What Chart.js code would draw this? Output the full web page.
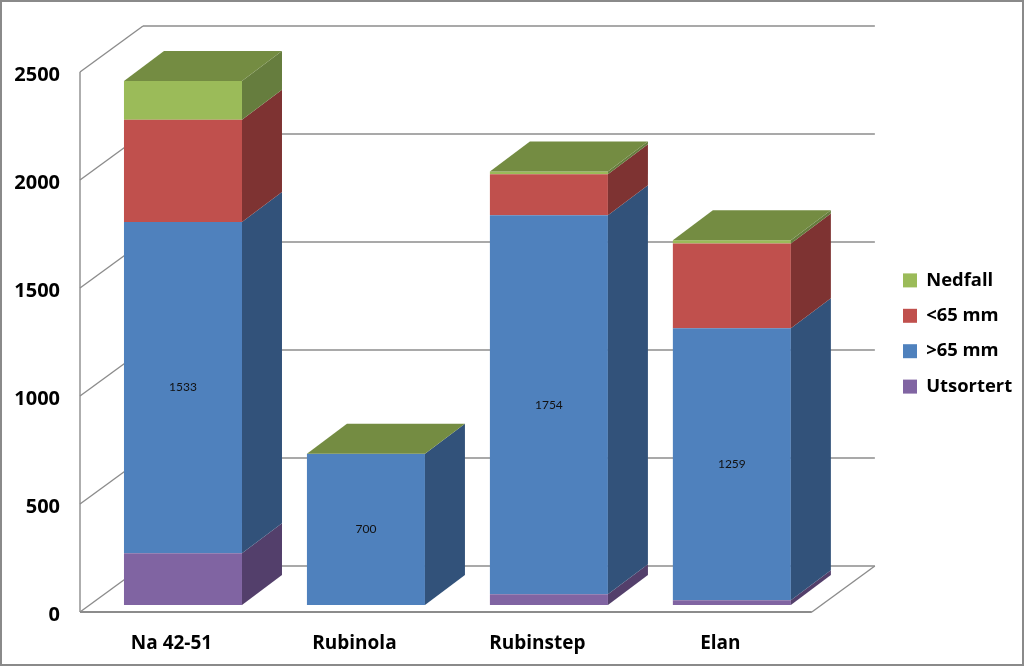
<!DOCTYPE html>
<html>
<head>
<meta charset="utf-8">
<style>
  html, body { margin:0; padding:0; background:#fff; }
  canvas { display:block; }
</style>
</head>
<body>
<canvas id="chart" width="1024" height="667"></canvas>
<script src="https://cdn.jsdelivr.net/npm/chart.js@4/dist/chart.umd.min.js"></script>
<script>
const categories = ['Na 42-51', 'Rubinola', 'Rubinstep', 'Elan'];
const utsortert  = [240, 0, 50, 22];
const over65     = [1533, 700, 1754, 1259];
const under65    = [473, 0, 190, 393];
const nedfall    = [180, 0, 13, 15];
const yTicks     = [0, 500, 1000, 1500, 2000, 2500];

// Paleta: front, side, top
const purple = '#8064A2', purpleS = '#533F6B';
const blue   = '#4F81BD', blueS   = '#32527A';
const red    = '#C0504D', redS    = '#7E3332';
const lime   = '#9BBB59', limeS   = '#667D3E', limeT = '#748C42';
const gridC  = '#8C8C8C';
const fontName = '"Open Sans", Lato, sans-serif';

// Depth of the walls and of the columns, and where the columns sit on the floor
const wallDx = 63, wallDy = -46;
const barDx = 40, barDy = -30;
const shiftX = 11.5, shiftY = -7;

const box3d = {
  id:'box3d',
  beforeDraw(chart) {
    const c = chart.ctx;
    c.save();
    c.fillStyle = '#fff';
    c.fillRect(0, 0, chart.width, chart.height);
    c.strokeStyle = '#8A8A8A';
    c.lineWidth = 2;
    c.strokeRect(1, 1, chart.width - 2, chart.height - 3);
    c.restore();
  },
  afterLayout(chart) {
    // legend goes right of the back wall, centred on the whole picture
    const l = chart.legend;
    l.left = 886; l.right = 1024;
    l.top = 0; l.bottom = 667;
  },
  beforeDatasetsDraw(chart) {
    const c = chart.ctx, x = chart.scales.x, y = chart.scales.y;
    const line = (x1, y1, x2, y2) => { c.beginPath(); c.moveTo(x1, y1); c.lineTo(x2, y2); c.stroke(); };
    c.save();
    c.strokeStyle = gridC;
    c.lineWidth = 1.4;
    // walls
    yTicks.forEach(v => {
      const py = y.getPixelForValue(v);
      line(x.left, py, x.left + wallDx, py + wallDy);
      line(x.left + wallDx, py + wallDy, x.right + wallDx, py + wallDy);
    });
    line(x.left, y.top, x.left, y.bottom);
    // floor
    c.lineWidth = 1.8;
    line(x.left, y.bottom, x.right, y.bottom);
    c.lineWidth = 1.4;
    line(x.right, y.bottom, x.right + wallDx, y.bottom + wallDy);
    c.restore();
    c.save();
    c.translate(shiftX, shiftY);
  },
  afterDatasetsDraw(chart) {
    const c = chart.ctx;
    const poly = (pts, col) => {
      c.fillStyle = col;
      c.beginPath();
      pts.forEach((p, i) => i ? c.lineTo(p[0], p[1]) : c.moveTo(p[0], p[1]));
      c.closePath();
      c.fill();
    };
    chart.data.datasets.forEach((ds, i) => {
      chart.getDatasetMeta(i).data.forEach(bar => {
        const r = bar.x + bar.width / 2, l = bar.x - bar.width / 2;
        if (bar.base - bar.y > 0) {
          poly([[r, bar.y], [r + barDx, bar.y + barDy], [r + barDx, bar.base + barDy], [r, bar.base]], ds.sideColor);
        }
        // top face belongs to the last series, also where its value is 0
        if (i === chart.data.datasets.length - 1) {
          poly([[l, bar.y], [l + barDx, bar.y + barDy], [r + barDx, bar.y + barDy], [r, bar.y]], limeT);
        }
      });
      if (ds.showValues) {
        c.fillStyle = '#111';
        c.font = '12px Lato, sans-serif';
        c.textAlign = 'center';
        c.textBaseline = 'middle';
        chart.getDatasetMeta(i).data.forEach((bar, j) => {
          c.fillText(ds.data[j], bar.x, (bar.y + bar.base) / 2);
        });
      }
    });
    c.restore();
  }
};

const mkSet = (label, data, color, sideColor, showValues) => ({
  label, data, sideColor, showValues,
  backgroundColor:color, borderWidth:0, clip:false,
  categoryPercentage:1, barPercentage:0.645
});

new Chart(document.getElementById('chart'), {
  type:'bar',
  data:{
    labels:categories,
    datasets:[
      mkSet('Utsortert', utsortert, purple, purpleS, false),
      mkSet('>65 mm', over65, blue, blueS, true),
      mkSet('<65 mm', under65, red, redS, false),
      mkSet('Nedfall', nedfall, lime, limeS, false)
    ]
  },
  options:{
    responsive:false, animation:false,
    layout:{ padding:{ top:72, left:0, right:76, bottom:0 } },
    scales:{
      x:{
        stacked:true,
        grid:{ display:false }, border:{ display:false },
        ticks:{ padding:12, color:'#000', maxRotation:0, font:{ family:fontName, size:19, weight:'bold' } },
        afterFit:s => { s.height = 55; }
      },
      y:{
        stacked:true, min:0, max:2500,
        grid:{ display:false, drawTicks:false }, border:{ display:false },
        ticks:{ stepSize:500, padding:20, labelOffset:3, color:'#000', callback:v => String(v), font:{ family:fontName, size:20, weight:'bold' } },
        afterFit:s => { s.width = 80; }
      }
    },
    plugins:{
      legend:{
        position:'right', reverse:true,
        labels:{ boxWidth:14, boxHeight:14, padding:17, color:'#000', font:{ family:fontName, size:18.4, weight:'bold' } }
      },
      tooltip:{ enabled:false }
    }
  },
  plugins:[box3d]
});
</script>
</body>
</html>
